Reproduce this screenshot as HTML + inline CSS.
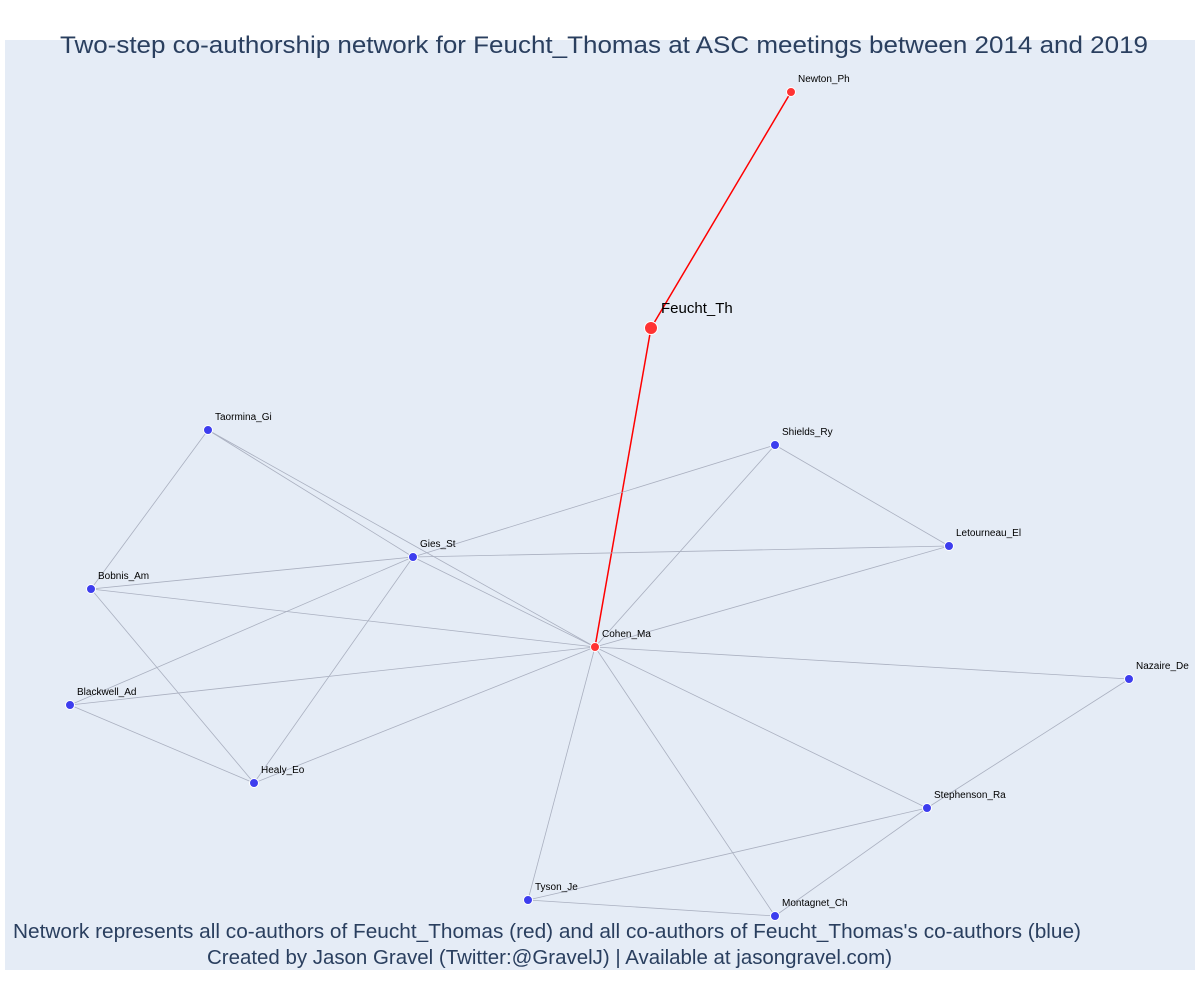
<!DOCTYPE html>
<html><head><meta charset="utf-8"><style>
body{margin:0;background:#fff;width:1200px;height:1000px;overflow:hidden;font-family:"Liberation Sans",sans-serif}
</style></head><body>
<svg width="1200" height="1000">
<rect x="5" y="40" width="1190" height="930" fill="#E5ECF6"/>
<text x="60" y="53" font-size="24" fill="#2a3f5f" textLength="1088" lengthAdjust="spacingAndGlyphs">Two-step co-authorship network for Feucht_Thomas at ASC meetings between 2014 and 2019</text>
<g id="edges"></g>
<g id="nodes"></g>
<text x="13" y="938" font-size="20" fill="#2a3f5f" textLength="1068" lengthAdjust="spacingAndGlyphs">Network represents all co-authors of Feucht_Thomas (red) and all co-authors of Feucht_Thomas's co-authors (blue)</text>
<text x="207" y="964" font-size="20" fill="#2a3f5f" textLength="685" lengthAdjust="spacingAndGlyphs">Created by Jason Gravel (Twitter:@GravelJ) | Available at jasongravel.com)</text>
</svg>
<script>
const nodeNames=["Newton_Ph","Feucht_Th","Cohen_Ma","Taormina_Gi","Shields_Ry","Gies_St","Letourneau_El","Bobnis_Am","Blackwell_Ad","Nazaire_De","Healy_Eo","Stephenson_Ra","Tyson_Je","Montagnet_Ch"];
const nodeX=[791,651,595,208,775,413,949,91,70,1129,254,927,528,775];
const nodeY=[92,328,647,430,445,557,546,589,705,679,783,808,900,916];
const nodeRed=[1,1,1,0,0,0,0,0,0,0,0,0,0,0];
const edgeList=[[0,1],[1,2],[3,7],[3,5],[3,2],[4,5],[4,2],[4,6],[5,6],[5,2],[5,7],[5,8],[5,10],[6,2],[7,2],[7,10],[8,2],[8,10],[10,2],[9,2],[9,11],[11,2],[11,12],[11,13],[12,2],[12,13],[13,2]];
const NS="http://www.w3.org/2000/svg";
const eg=document.getElementById('edges'),ng=document.getElementById('nodes');
edgeList.forEach(([a,b])=>{
 const l=document.createElementNS(NS,'line');
 l.setAttribute('x1',nodeX[a]);l.setAttribute('y1',nodeY[a]);l.setAttribute('x2',nodeX[b]);l.setAttribute('y2',nodeY[b]);
 const red=nodeRed[a]&&nodeRed[b];
 l.setAttribute('stroke',red?'#ff0000':'#aab0c0');l.setAttribute('stroke-width',red?1.5:0.8);
 
 
 eg.appendChild(l);
});
nodeNames.forEach((n,i)=>{
 const big=i===1;
 const c=document.createElementNS(NS,'circle');
 c.setAttribute('cx',nodeX[i]);c.setAttribute('cy',nodeY[i]);c.setAttribute('r',big?6.5:4.5);
 c.setAttribute('fill',nodeRed[i]?'#ff3333':'#3d3dee');c.setAttribute('stroke','#fff');c.setAttribute('stroke-width',1);
 
 
 ng.appendChild(c);
 const t=document.createElementNS(NS,'text');
 t.setAttribute('x',nodeX[i]+(big?10:7));t.setAttribute('y',nodeY[i]-(big?15:10));
 t.setAttribute('font-size',big?15:10);t.setAttribute('fill','#000');
 t.textContent=n;
 
 
 ng.appendChild(t);
});
</script>
</body></html>
